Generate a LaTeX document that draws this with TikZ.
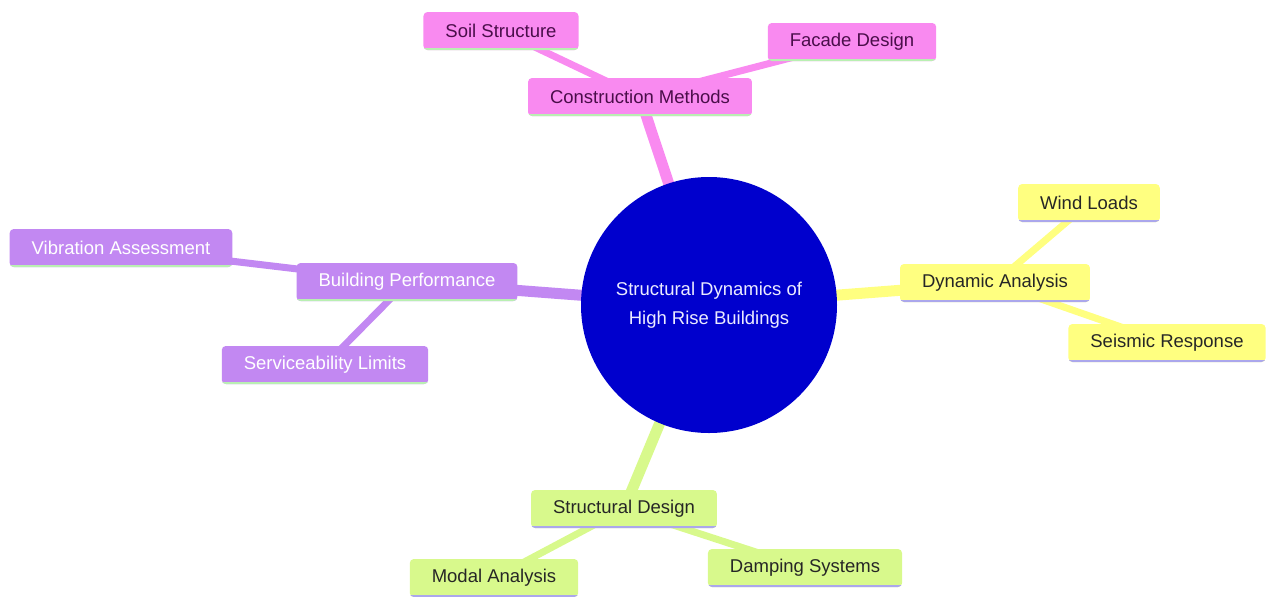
\documentclass[tikz,border=0pt]{standalone}
\usepackage{fontspec}
\setmainfont{Liberation Sans}
\usetikzlibrary{backgrounds}
\definecolor{hub}{HTML}{0000CD}
\definecolor{pinkbox}{HTML}{F98AF0}
\definecolor{pinktext}{HTML}{4A0E4A}
\definecolor{lilacbox}{HTML}{C288F2}
\definecolor{yellowbox}{HTML}{FFFF80}
\definecolor{greenbox}{HTML}{D8F98C}
\definecolor{mint}{HTML}{B9EFB2}
\definecolor{lavender}{HTML}{ABA7EC}
\begin{document}
\begin{tikzpicture}[x=0.5pt,y=-0.5pt,font=\fontsize{9.25}{11}\selectfont,
   box/.style 2 args={rectangle,rounded corners=2pt,minimum height=19pt,inner xsep=11pt,fill=#1,
      path picture={\draw[line width=2pt,#2] (path picture bounding box.south west)--(path picture bounding box.south east);}},
   pinknode/.style={box={pinkbox}{mint},text=pinktext},
   lilacnode/.style={box={lilacbox}{mint},text=white},
   yellownode/.style={box={yellowbox}{lavender},text=black!85},
   greennode/.style={box={greenbox}{lavender},text=black!85},
   trunk/.style={line width=5.5pt,#1}, twig/.style={line width=3.5pt,#1}]
   \useasboundingbox (0,0) rectangle (1266,596);
   \node (hub) at (709,305) [circle,fill=hub,minimum size=128pt,inner sep=0pt,align=center,text=blue!8,font=\fontsize{9.25}{14.5}\selectfont] {Structural Dynamics of\\High Rise Buildings};
   \node (constr) at (640,97) [pinknode] {Construction Methods};
   \node (soil) at (501,31) [pinknode] {Soil Structure}; \node (facade) at (852,42) [pinknode] {Facade Design};
   \node (perf) at (407,282) [lilacnode] {Building Performance};
   \node (vib) at (121,248) [lilacnode] {Vibration Assessment}; \node (serv) at (325,365) [lilacnode] {Serviceability Limits};
   \node (dyn) at (995,283) [yellownode] {Dynamic Analysis};
   \node (wind) at (1089,203) [yellownode] {Wind Loads}; \node (seis) at (1167,343) [yellownode] {Seismic Response};
   \node (sdes) at (624,509) [greennode] {Structural Design};
   \node (modal) at (494,578) [greennode] {Modal Analysis}; \node (damp) at (805,568) [greennode] {Damping Systems};
   \begin{pgfonlayer}{background}
   \draw[trunk=pinkbox] (hub.center)--(constr.center); \draw[twig=pinkbox] (constr.center)--(soil.center); \draw[twig=pinkbox] (constr.center)--(facade.center);
   \draw[trunk=lilacbox] (hub.center)--(perf.center); \draw[twig=lilacbox] (perf.center)--(vib.center); \draw[twig=lilacbox] (perf.center)--(serv.center);
   \draw[trunk=yellowbox] (hub.center)--(dyn.center); \draw[twig=yellowbox] (dyn.center)--(wind.center); \draw[twig=yellowbox] (dyn.center)--(seis.center);
   \draw[trunk=greenbox] (hub.center)--(sdes.center); \draw[twig=greenbox] (sdes.center)--(modal.center); \draw[twig=greenbox] (sdes.center)--(damp.center);
   \end{pgfonlayer}
\end{tikzpicture}
\end{document}
